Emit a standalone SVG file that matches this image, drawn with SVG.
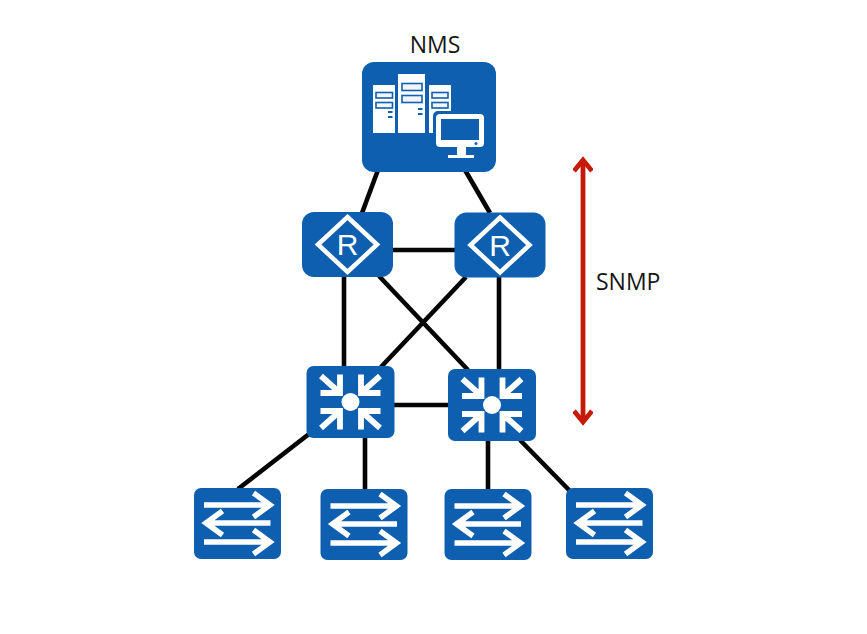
<svg xmlns="http://www.w3.org/2000/svg" width="867" height="634" viewBox="0 0 867 634">
  <style>
    .box { fill: #0e5fb0; }
    .link { stroke: #050505; stroke-width: 4.6; fill: none; }
    .diamond { stroke: #fff; fill: none; stroke-width: 4.5; }
    .core-arrow { stroke: #fff; fill: none; stroke-width: 5.8; }
    .access-arrow { stroke: #fff; fill: none; stroke-width: 5.5; }
    .solid { fill: #fff; }
    .cut { fill: #0e5fb0; }
    .band { fill: #f2f6fb; stroke: #0e5fb0; stroke-width: 1.6; }
    .label { font-family: "Open Sans", "Noto Sans", sans-serif; font-size: 23px; fill: #161616; }
    .snmp { stroke: #c71a06; stroke-width: 4.8; fill: none; }
  </style>
  <defs>
    <!-- Router: rounded tile with diamond and R -->
    <g id="router-face">
      <rect class="box" x="-45.500" y="-32.500" width="91" height="65" rx="12"/>
      <path class="diamond" d="M0-27.500 29.500 0 0 27.500-29.500 0Z"/>
      <text x="0" y="10.500" text-anchor="middle" font-family="Liberation Sans, sans-serif" font-size="30" fill="#fff">R</text>
    </g>
    <!-- Core switch: four arrows pointing at a dot -->
    <path id="in-arrow" class="core-arrow" d="M-29.500-26-11-9.500M-10.500-27.500V-9H-30"/>
    <g id="core-face">
      <rect class="box" x="-44" y="-36" width="88" height="72" rx="7"/>
      <circle class="solid" cx="0" cy="0" r="9"/>
      <use href="#in-arrow"/>
      <use href="#in-arrow" transform="scale(-1 1)"/>
      <use href="#in-arrow" transform="scale(1 -1)"/>
      <use href="#in-arrow" transform="scale(-1 -1)"/>
    </g>
    <!-- Access switch: three horizontal arrows -->
    <g id="access-face">
      <rect class="box" x="-43.500" y="-35.500" width="87" height="71" rx="7"/>
      <path class="access-arrow" d="M-33.500-18.500H31M16-30.500 32.500-18.500 16-6.500"/>
      <path class="access-arrow" d="M33-0.500H-30M-15-12.500-31.500-0.500-15 11.500"/>
      <path class="access-arrow" d="M-33.500 18.500H31M16 6.500 32.500 18.500 16 30.500"/>
    </g>
    <marker id="chevron" viewBox="0 0 20 20" refX="15" refY="10" markerWidth="20" markerHeight="20" markerUnits="userSpaceOnUse" orient="auto-start-reverse">
      <path d="M4 1 15 10 4 19" fill="none" stroke="#c71a06" stroke-width="4.800"/>
    </marker>
  </defs>

  <g id="connectors">
    <path class="link" d="M378 170 362 213"/>
    <path class="link" d="M465 170 490 213"/>
    <path class="link" d="M392 250H456"/>
    <path class="link" d="M344 276V367"/>
    <path class="link" d="M499 277V370"/>
    <path class="link" d="M379 276 468 370"/>
    <path class="link" d="M466 277 381 367"/>
    <path class="link" d="M393 405H449"/>
    <path class="link" d="M309 434 238 489"/>
    <path class="link" d="M365 437V490"/>
    <path class="link" d="M488 440V490"/>
    <path class="link" d="M520 440 570 491"/>
  </g>

  <g id="nms">
    <rect class="box" x="362" y="62" width="134" height="110" rx="12"/>
    <g class="solid">
      <rect x="373" y="85" width="22" height="48"/>
      <rect x="398" y="74" width="27" height="59"/>
      <rect x="429" y="85" width="22" height="48"/>
    </g>
    <g class="band">
      <rect x="376" y="92.500" width="16.500" height="5.500"/><rect x="376" y="102.500" width="16.500" height="5.500"/>
      <rect x="402" y="83.500" width="20" height="7"/><rect x="402" y="95.500" width="20" height="7"/>
      <rect x="432" y="92.500" width="16" height="5.500"/><rect x="432" y="102.500" width="16" height="5.500"/>
    </g>
    <g class="cut">
      <rect x="388" y="111" width="4.500" height="2"/><rect x="388" y="116" width="4.500" height="2"/>
      <rect x="418" y="108" width="4.500" height="2"/><rect x="418" y="113" width="4.500" height="2"/>
      <rect x="433" y="111" width="54" height="39" rx="5"/>
    </g>
    <rect class="solid" x="436" y="114" width="48" height="33" rx="4"/>
    <rect class="cut" x="441" y="119" width="38" height="21"/>
    <circle class="cut" cx="476" cy="143.500" r="1.500"/>
    <path class="solid" d="M457 147h9v8h8v3h-26v-3h9Z"/>
    <text class="label" x="435" y="53" text-anchor="middle">NMS</text>
  </g>

  <g id="router-1"><use href="#router-face" transform="translate(347.500 244.500)"/></g>
  <g id="router-2"><use href="#router-face" transform="translate(500 245)"/></g>
  <g id="core-1"><use href="#core-face" transform="translate(350.500 402)"/></g>
  <g id="core-2"><use href="#core-face" transform="translate(492 405)"/></g>
  <g id="access-1"><use href="#access-face" transform="translate(237.500 523.500)"/></g>
  <g id="access-2"><use href="#access-face" transform="translate(364 524.500)"/></g>
  <g id="access-3"><use href="#access-face" transform="translate(488 524.500)"/></g>
  <g id="access-4"><use href="#access-face" transform="translate(609.500 523.500)"/></g>

  <g id="snmp">
    <path class="snmp" d="M583 160V422" marker-start="url(#chevron)" marker-end="url(#chevron)"/>
    <text class="label" x="596" y="290">SNMP</text>
  </g>
</svg>
